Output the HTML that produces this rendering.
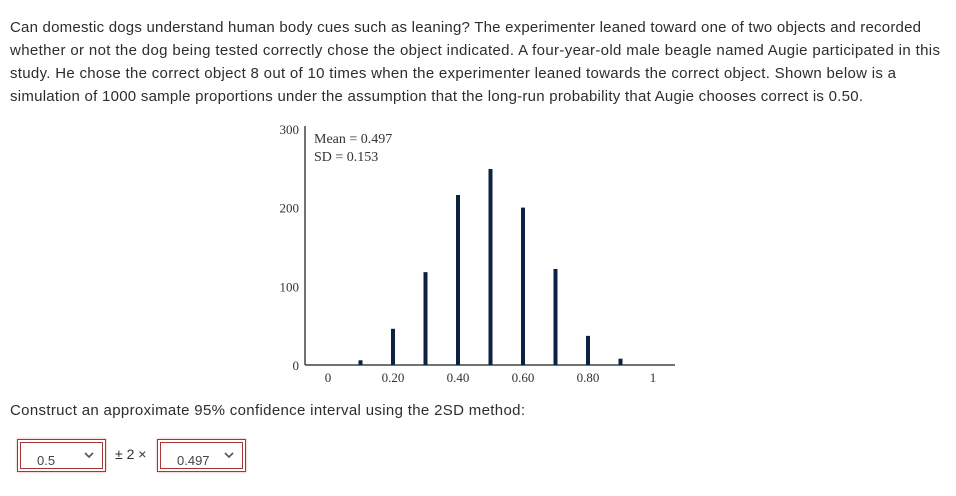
<!DOCTYPE html>
<html><head><meta charset="utf-8"><style>
body{margin:0;width:956px;height:496px;background:#fff;font-family:"Liberation Sans",sans-serif;color:#2d2d2d;position:relative;overflow:hidden}
.sel{position:absolute;top:439px;width:89px;height:33px;border:1px solid #a33;box-sizing:border-box;padding:2px;box-shadow:0 0 2px #d99}
.sel div{width:100%;height:100%;border:1px solid #a33;box-sizing:border-box;font-size:13px;color:#444;padding:10px 0 0 16px;position:relative}
.sel svg{position:absolute;right:8px;top:9px}
</style></head><body>
<svg width="956" height="120" style="position:absolute;left:0;top:0" font-family="Liberation Sans" font-size="15" fill="#2d2d2d">
<text x="10" y="32" textLength="911" lengthAdjust="spacing">Can domestic dogs understand human body cues such as leaning? The experimenter leaned toward one of two objects and recorded</text>
<text x="10" y="55" textLength="930" lengthAdjust="spacing">whether or not the dog being tested correctly chose the object indicated. A four-year-old male beagle named Augie participated in this</text>
<text x="10" y="78" textLength="886" lengthAdjust="spacing">study. He chose the correct object 8 out of 10 times when the experimenter leaned towards the correct object. Shown below is a</text>
<text x="10" y="101" textLength="853" lengthAdjust="spacing">simulation of 1000 sample proportions under the assumption that the long-run probability that Augie chooses correct is 0.50.</text>
</svg>
<svg id="chart" width="956" height="496" style="position:absolute;left:0;top:0"></svg>
<svg width="600" height="30" style="position:absolute;left:0;top:398px"><text x="10" y="17" font-family="Liberation Sans" font-size="15" fill="#2d2d2d" textLength="515" lengthAdjust="spacing">Construct an approximate 95% confidence interval using the 2SD method:</text></svg>
<div class="sel" style="left:17px"><div>0.5<svg width="10" height="7"><path d="M1 1L5 5L9 1" stroke="#555" stroke-width="1.6" fill="none"/></svg></div></div>
<div style="position:absolute;left:115px;top:446px;font-size:14px;color:#333">± 2 ×</div>
<div class="sel" style="left:157px"><div>0.497<svg width="10" height="7"><path d="M1 1L5 5L9 1" stroke="#555" stroke-width="1.6" fill="none"/></svg></div></div>
<script>
const categories=[0.1,0.2,0.3,0.4,0.5,0.6,0.7,0.8,0.9];
const counts=[6,46,118,216,249,200,122,37,8];
const xTicks=[0,0.2,0.4,0.6,0.8,1];
const xTickLabels=["0","0.20","0.40","0.60","0.80","1"];
const yTicks=[0,100,200,300];
const svg=document.getElementById('chart');
const NS='http://www.w3.org/2000/svg';
const X=v=>328+v*325, Y=v=>365-v*0.787;
function mk(t,a){const e=document.createElementNS(NS,t);for(const k in a)e.setAttribute(k,a[k]);svg.appendChild(e);return e;}
const ya=mk('line',{x1:305,y1:126,x2:305,y2:365,stroke:'#444','stroke-width':1.5});

const xa=mk('line',{x1:305,y1:365,x2:675,y2:365,stroke:'#444','stroke-width':1.5});

yTicks.forEach(v=>{const t=mk('text',{x:299,y:Y(v)+5,'text-anchor':'end','font-family':'Liberation Serif','font-size':13,fill:'#333'});t.textContent=v;
});
xTicks.forEach((v,i)=>{const t=mk('text',{x:X(v),y:382,'text-anchor':'middle','font-family':'Liberation Serif','font-size':13,fill:'#333'});t.textContent=xTickLabels[i];
});
categories.forEach((c,i)=>{const b=mk('rect',{x:X(c)-2,y:Y(counts[i]),width:4,height:365-Y(counts[i]),fill:'#0d2240'});
});
const m=mk('text',{x:314,y:143,'font-family':'Liberation Serif','font-size':14,fill:'#333'});m.textContent='Mean = 0.497';

const s=mk('text',{x:314,y:161,'font-family':'Liberation Serif','font-size':14,fill:'#333'});s.textContent='SD = 0.153';

</script>
</body></html>
